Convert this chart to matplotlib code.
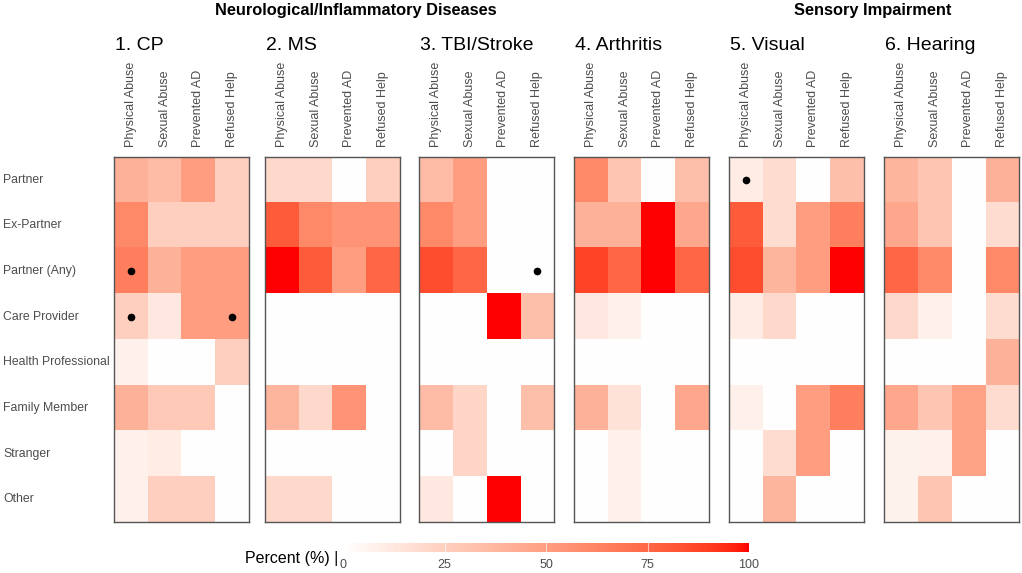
import numpy as np
import matplotlib
matplotlib.use("Agg")
import matplotlib.pyplot as plt
import matplotlib.transforms as mtrans
from matplotlib.colors import ListedColormap
from matplotlib.cm import ScalarMappable
from matplotlib.colors import Normalize

plt.rcParams['font.family'] = ['Liberation Sans', 'DejaVu Sans']

rows = ["Partner", "Ex-Partner", "Partner (Any)", "Care Provider",
        "Health Professional", "Family Member", "Stranger", "Other"]
cols = ["Physical Abuse", "Sexual Abuse", "Prevented AD", "Refused Help"]
titles = ["1. CP", "2. MS", "3. TBI/Stroke", "4. Arthritis", "5. Visual", "6. Hearing"]

# percent values, rows x cols
cp = [[40, 35, 50, 25],
      [60, 25, 25, 25],
      [65, 40, 50, 50],
      [25, 12, 50, 50],
      [8, 0, 0, 25],
      [40, 28, 28, 0],
      [8, 10, 0, 0],
      [8, 25, 25, 0]]
ms = [[20, 20, 0, 25],
      [80, 60, 55, 55],
      [100, 80, 50, 75],
      [0, 0, 0, 0],
      [0, 0, 0, 0],
      [38, 20, 55, 0],
      [0, 0, 0, 0],
      [20, 20, 0, 0]]
tbi = [[35, 50, 0, 0],
       [60, 50, 0, 0],
       [85, 75, 0, 0],
       [0, 0, 100, 33],
       [0, 0, 0, 0],
       [35, 22, 0, 33],
       [0, 22, 0, 0],
       [12, 0, 100, 0]]
arthritis = [[60, 30, 0, 33],
             [40, 40, 100, 45],
             [88, 75, 100, 75],
             [12, 8, 0, 0],
             [0, 0, 0, 0],
             [40, 15, 0, 45],
             [0, 8, 0, 0],
             [0, 8, 0, 0]]
visual = [[10, 18, 0, 33],
          [80, 18, 50, 65],
          [85, 38, 50, 100],
          [10, 20, 0, 0],
          [0, 0, 0, 0],
          [8, 0, 50, 65],
          [0, 18, 50, 0],
          [0, 38, 0, 0]]
hearing = [[38, 30, 0, 40],
           [45, 30, 0, 18],
           [75, 60, 0, 60],
           [20, 8, 0, 18],
           [0, 0, 0, 40],
           [45, 30, 48, 18],
           [7, 8, 48, 0],
           [7, 30, 0, 0]]
panels = [cp, ms, tbi, arthritis, visual, hearing]

# significance dots: (panel, row, col)
dots = [(0, 2, 0), (0, 3, 0), (0, 3, 3), (2, 2, 3), (4, 0, 0)]

ticks = [0, 25, 50, 75, 100]


# white -> red gradient interpolated in Lab, like ggplot
def srgb_to_lab(c):
    c = np.asarray(c, float)
    lin = np.where(c > 0.04045, ((c + 0.055) / 1.055) ** 2.4, c / 12.92)
    M = np.array([[0.4124, 0.3576, 0.1805],
                  [0.2126, 0.7152, 0.0722],
                  [0.0193, 0.1192, 0.9505]])
    xyz = M @ lin / np.array([0.95047, 1.0, 1.08883])
    f = np.where(xyz > 0.008856, np.cbrt(xyz), 7.787 * xyz + 16 / 116)
    return np.array([116 * f[1] - 16, 500 * (f[0] - f[1]), 200 * (f[1] - f[2])])


def lab_to_srgb(lab):
    L, a, b = lab
    fy = (L + 16) / 116
    fx = fy + a / 500
    fz = fy - b / 200
    f = np.array([fx, fy, fz])
    xyz = np.where(f ** 3 > 0.008856, f ** 3, (f - 16 / 116) / 7.787)
    xyz = xyz * np.array([0.95047, 1.0, 1.08883])
    Minv = np.array([[3.2406, -1.5372, -0.4986],
                     [-0.9689, 1.8758, 0.0415],
                     [0.0557, -0.2040, 1.0570]])
    lin = np.clip(Minv @ xyz, 0, 1)
    return np.where(lin > 0.0031308, 1.055 * lin ** (1 / 2.4) - 0.055, 12.92 * lin)


lo = srgb_to_lab([1, 1, 1])
hi = srgb_to_lab([1, 0, 0])
cmap = ListedColormap([lab_to_srgb(lo + t * (hi - lo)) for t in np.linspace(0, 1, 256)])

W, H = 1022, 573
fig = plt.figure(figsize=(W / 100, H / 100), dpi=100)

lefts = [114, 265, 419, 574, 729, 884]
pw = 135
top, bottom = 157, 522
txt = "#4d4d4d"

for i, data in enumerate(panels):
    ax = fig.add_axes([lefts[i] / W, 1 - bottom / H, pw / W, (bottom - top) / H])
    ax.imshow(np.array(data), cmap=cmap, vmin=0, vmax=100, aspect='auto',
              interpolation='nearest')
    for p, r, c in dots:
        if p == i:
            ax.plot(c, r, 'o', color='black', ms=4.5)
    ax.set_xticks(range(len(cols)))
    ax.set_xticklabels(cols, rotation=90, fontsize=9, color=txt)
    ax.xaxis.tick_top()
    ax.tick_params(axis='x', length=0, pad=7)
    ax.set_yticks([])
    for s in ax.spines.values():
        s.set_color("#555555")
        s.set_linewidth(1)
    fig.text((lefts[i] + 1) / W, 1 - 46 / H, titles[i], fontsize=14, va='center', ha='left')
    if i == 0:
        tr = mtrans.blended_transform_factory(fig.transFigure, ax.transData)
        for r, name in enumerate(rows):
            ax.text(3 / W, r, name, transform=tr, fontsize=8.8, color=txt,
                    ha='left', va='center')

fig.text(356 / W, 1 - 11 / H, "Neurological/Inflammatory Diseases", fontsize=11.8,
         fontweight='bold', ha='center', va='center')
fig.text(873 / W, 1 - 11 / H, "Sensory Impairment", fontsize=11.8,
         fontweight='bold', ha='center', va='center')

# colour bar
cax = fig.add_axes([343 / W, 1 - 552 / H, 406 / W, 9 / H])
cb = fig.colorbar(ScalarMappable(norm=Normalize(0, 100), cmap=cmap), cax=cax,
                  orientation='horizontal', ticks=ticks)
cb.outline.set_visible(False)
for t in ticks[1:-1]:
    cax.axvline(t, color='white', lw=0.8, alpha=0.6)
cax.tick_params(length=0, labelsize=9, labelcolor=txt, pad=5)
fig.text(338 / W, 1 - 558 / H, "Percent (%) |", fontsize=11.5, ha='right', va='center')

fig.savefig("out.png", dpi=100)
